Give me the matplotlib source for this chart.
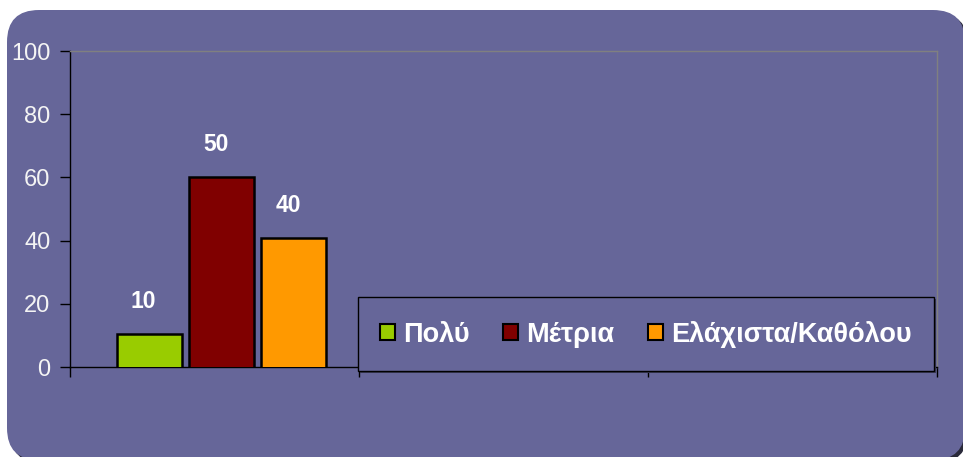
import matplotlib.pyplot as plt
from matplotlib.patches import FancyBboxPatch, Rectangle, Patch
from matplotlib.transforms import IdentityTransform

# data
series = ['Πολύ', 'Μέτρια', 'Ελάχιστα/Καθόλου']
values = [10.3, 60, 40.7]
value_labels = ['10', '50', '40']
colors = ['#99CC00', '#800000', '#FF9900']
yticks = [0, 20, 40, 60, 80, 100]

plt.rcParams['font.family'] = ['Liberation Sans', 'DejaVu Sans']

W, H = 963, 457
fig = plt.figure(figsize=(W / 100, H / 100), dpi=100)
fig.patch.set_facecolor('white')

# rounded purple panel (pixel coords, origin bottom-left), with a thin shadow
px = IdentityTransform()
shadow = FancyBboxPatch((10, -6), 958, H - 10 + 3, boxstyle='round,pad=0,rounding_size=32',
                        transform=px, facecolor='#2a2a3a', edgecolor='none', zorder=0)
panel = FancyBboxPatch((7, -3), 958, H - 10 + 3, boxstyle='round,pad=0,rounding_size=32',
                       transform=px, facecolor='#666699', edgecolor='none', zorder=1)
fig.patches.extend([shadow, panel])

left, right, top, bottom = 70, 937, 51, 367
ax = fig.add_axes([left / W, 1 - bottom / H, (right - left) / W, (bottom - top) / H])
ax.set_facecolor('none')
ax.set_zorder(2)

width = 0.225
offsets = [-0.25, 0, 0.25]
for i in range(len(series)):
    x = 0.525 + offsets[i]
    ax.bar(x, values[i] + 0.7, bottom=-0.7, width=width, color=colors[i],
           edgecolor='black', linewidth=1.8, label=series[i], zorder=3)
    ax.text(x - 0.02, values[i] + 10.3, value_labels[i], ha='center', va='center',
            color='white', fontsize=16.5, fontweight='bold', zorder=4)

ax.set_xlim(0, 3)
ax.set_ylim(0, 100)
ax.set_xticks([0, 1, 2, 3])
ax.set_xticklabels([])
ax.set_yticks(yticks)
ax.set_yticklabels([str(t) for t in yticks], color='#F4F4F4', fontsize=17)
ax.tick_params(axis='both', direction='out', length=7, width=1, color='black', pad=7)

ax.spines['left'].set_color('black')
ax.spines['bottom'].set_color('black')
ax.spines['top'].set_color('#808080')
ax.spines['right'].set_color('#808080')
for s in ax.spines.values():
    s.set_linewidth(1)

# legend box
lx0, lx1, ly0, ly1 = 358, 934, 297, 371
fig.patches.append(Rectangle((lx0 + 1.5, H - ly1 - 2), lx1 - lx0, ly1 - ly0,
                             transform=px, facecolor='#3a3a55',
                             edgecolor='none', zorder=5))
fig.patches.append(Rectangle((lx0, H - ly1), lx1 - lx0, ly1 - ly0,
                             transform=px, facecolor='#666699',
                             edgecolor='black', linewidth=1, zorder=6))
handles = [Patch(facecolor=colors[i], edgecolor='black', linewidth=1.5) for i in range(3)]
leg = fig.legend(handles, series, loc='center',
                 bbox_to_anchor=((lx0 + lx1) / 2 / W, 1 - (ly0 + ly1) / 2 / H),
                 ncol=3, frameon=False, handlelength=0.55, handleheight=0.55,
                 handletextpad=0.3, columnspacing=1.25,
                 prop={'weight': 'bold', 'size': 19.5})
leg.set_zorder(7)
for t in leg.get_texts():
    t.set_color('white')

fig.savefig('out.png', dpi=100)
